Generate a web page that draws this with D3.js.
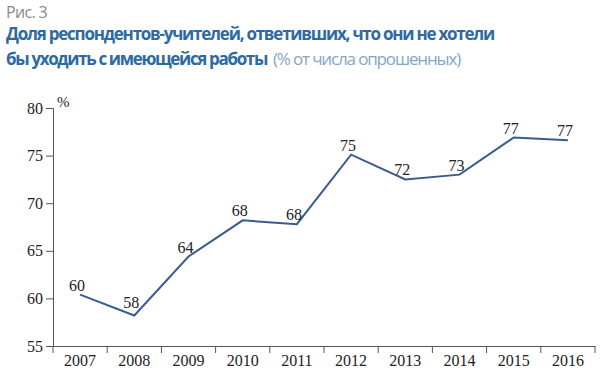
<!DOCTYPE html>
<html>
<head>
<meta charset="utf-8">
<script src="https://cdn.jsdelivr.net/npm/d3@7"></script>
<style>
  body { margin: 0; background: #fff; }
</style>
</head>
<body>
<svg id="chart" width="600" height="375"></svg>
<script>
// data
var years = ["2007", "2008", "2009", "2010", "2011", "2012", "2013", "2014", "2015", "2016"];
var values = [60.4, 58.2, 64.4, 68.2, 67.8, 75.1, 72.5, 73.0, 76.9, 76.6];
var labels = ["60", "58", "64", "68", "68", "75", "72", "73", "77", "77"];
var yTicks = [55, 60, 65, 70, 75, 80];

var serif = "'Liberation Serif', 'Times New Roman', serif";
var sans = "'Open Sans', 'Noto Sans', sans-serif";

var svg = d3.select("#chart");

var x = d3.scaleBand()
    .domain(years)
    .range([53, 595]);

var y = d3.scaleLinear()
    .domain([55, 80])
    .range([346, 108]);

// squeeze a title line to a given width with letter-spacing
function fitWidth(sel, w) {
    var n = sel.text().length;
    var nat = sel.node().getComputedTextLength();
    sel.attr("letter-spacing", ((w - nat) / n) + "px");
}

// title
svg.append("text")
    .attr("x", 6).attr("y", 18)
    .style("font-family", sans)
    .attr("font-size", 16).attr("fill", "#8a8a8a")
    .text("Рис. 3")
    .call(fitWidth, 41);

svg.append("text")
    .attr("x", 6).attr("y", 40)
    .style("font-family", sans)
    .attr("font-size", 17).attr("font-weight", "bold").attr("fill", "#2d6aa3")
    .text("Доля респондентов-учителей, ответивших, что они не хотели")
    .call(fitWidth, 488);

svg.append("text")
    .attr("x", 6).attr("y", 65)
    .style("font-family", sans)
    .attr("font-size", 17).attr("font-weight", "bold").attr("fill", "#2d6aa3")
    .text("бы уходить с имеющейся работы")
    .call(fitWidth, 261);

svg.append("text")
    .attr("x", 273).attr("y", 65)
    .style("font-family", sans)
    .attr("font-size", 17).attr("fill", "#86a6c6")
    .text("(% от числа опрошенных)")
    .call(fitWidth, 187);

// axes
var yAxis = svg.append("g")
    .attr("transform", "translate(53,0)")
    .call(d3.axisLeft(y).tickValues(yTicks).tickSize(7).tickPadding(3));

var xAxis = svg.append("g")
    .attr("transform", "translate(0,346)")
    .call(d3.axisBottom(x).tickSize(0).tickPadding(9));

// ticks between categories
xAxis.selectAll(".sep")
    .data(years.concat(["end"]))
    .enter().append("line")
    .attr("class", "sep")
    .attr("x1", function(d, i) { return 53 + i * x.bandwidth(); })
    .attr("x2", function(d, i) { return 53 + i * x.bandwidth(); })
    .attr("y1", 0).attr("y2", 7)
    .attr("stroke", "#555");

svg.selectAll(".domain").attr("stroke", "#555");
svg.selectAll(".tick line").attr("stroke", "#555");
svg.selectAll(".tick text")
    .style("font-family", serif)
    .style("font-size", "16px")
    .attr("fill", "#222");

svg.append("text")
    .attr("x", 57).attr("y", 107)
    .style("font-family", serif)
    .attr("font-size", 15).attr("fill", "#222")
    .text("%");

// line
var line = d3.line()
    .x(function(d, i) { return x(years[i]) + x.bandwidth() / 2; })
    .y(function(d) { return y(d); });

svg.append("path")
    .datum(values)
    .attr("fill", "none")
    .attr("stroke", "#3b5a8f")
    .attr("stroke-width", 2)
    .attr("d", line);

// value labels
svg.selectAll(".lbl")
    .data(values)
    .enter().append("text")
    .attr("class", "lbl")
    .attr("x", function(d, i) { return x(years[i]) + x.bandwidth() / 2 - 3; })
    .attr("y", function(d, i) { return y(d) - (i == 1 ? 8 : 4); })
    .attr("text-anchor", "middle")
    .style("font-family", serif)
    .attr("font-size", 16).attr("fill", "#222")
    .text(function(d, i) { return labels[i]; });
</script>
</body>
</html>
